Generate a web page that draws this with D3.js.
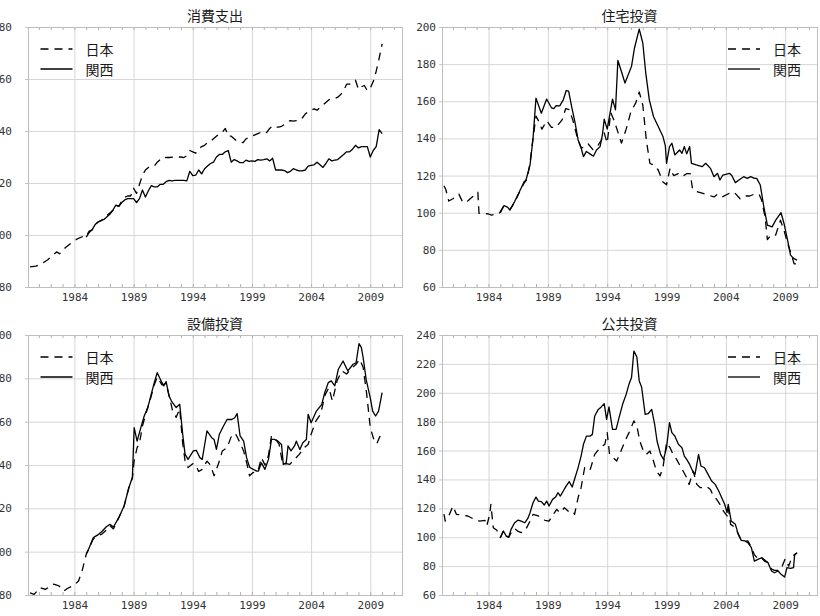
<!DOCTYPE html>
<html>
<head>
<meta charset="utf-8">
<script src="https://cdn.jsdelivr.net/npm/d3@7/dist/d3.min.js"></script>
<style>
  body { margin: 0; background: #fff; }
  svg { display: block; }
  .axis text { font-family: "DejaVu Sans Mono", monospace; font-size: 11px; fill: #333; }
  .axis .domain { display: none; }
  .axis line { stroke: #c4c4c4; }
  .grid line { stroke: #d6d6d6; }
  .grid .domain, .minor .domain { display: none; }
  .minor line { stroke: #b0b0b0; }
  .panel-title, .legend-label { font-family: "Noto Sans CJK JP", sans-serif; font-size: 14px; fill: #1a1a1a; }
  .series { fill: none; stroke: #000; stroke-width: 1.3; stroke-linejoin: round; }
  .series.japan { stroke-dasharray: 8,6; }
</style>
</head>
<body>
<div id="chart"></div>
<script>

// ---- data: [year, index] ----

let years = [1984, 1989, 1994, 1999, 2004, 2009];

// 消費支出
let consumJapan = [[1980.25,87.7],[1980.75,88],[1981.25,89],[1981.75,90.5],[1982.25,92.5],[1982.5,93.5],[1982.75,92.8],[1983.25,95.2],[1983.75,97],[1984.25,98.5],[1984.75,99.5],[1985,99.5],[1985.25,101.5],[1985.5,102],[1985.75,104],[1986,105],[1986.25,105.5],[1986.5,106.5],[1986.75,107.5],[1987,108.5],[1987.25,109.5],[1987.5,111.5],[1987.75,111],[1988,113],[1988.25,114.5],[1988.5,115],[1988.75,115],[1989,118],[1989.25,116],[1989.5,119.5],[1989.75,123],[1990,125],[1990.25,126],[1990.5,126],[1990.75,126.5],[1991,128],[1991.25,129],[1991.5,130],[1991.75,129.8],[1992,129.8],[1992.5,130],[1993,130],[1993.25,129.8],[1993.5,130.5],[1993.75,132.5],[1994,132],[1994.25,131.5],[1994.5,133],[1994.75,134],[1995,134.5],[1995.25,135.5],[1995.5,136],[1995.75,137],[1996,138],[1996.25,139],[1996.5,139.5],[1996.75,141],[1997,138],[1997.25,138],[1997.5,137],[1997.75,136],[1998,135.8],[1998.25,135.5],[1998.5,137],[1998.75,137.5],[1999,138],[1999.25,138.5],[1999.5,139],[1999.75,139.5],[2000,139],[2000.25,139.5],[2000.5,141],[2000.75,142],[2001,141.5],[2001.25,141.5],[2001.5,141.8],[2001.75,142.5],[2002,143.5],[2002.25,144],[2002.5,143.8],[2002.75,144],[2003,144],[2003.25,145],[2003.5,146.5],[2003.75,147.5],[2004,148],[2004.25,148.5],[2004.5,148],[2004.75,149],[2005,150],[2005.25,151],[2005.5,152],[2005.75,152.5],[2006,152.5],[2006.25,153],[2006.5,154],[2006.75,155.5],[2007,158],[2007.25,158],[2007.5,158.5],[2007.75,159.5],[2008,156],[2008.25,157],[2008.5,157.5],[2008.75,155.5],[2009,156.5],[2009.25,159],[2009.5,163],[2009.75,168],[2010,173.5]];
let consumKansai = [[1985,99.2],[1985.25,101],[1985.5,102],[1985.75,104],[1986,105],[1986.25,105.5],[1986.5,106],[1986.75,107],[1987,108],[1987.25,109.5],[1987.5,111.5],[1987.75,111],[1988,112.5],[1988.25,113.5],[1988.5,114],[1988.75,114],[1989,114],[1989.25,112.5],[1989.5,114],[1989.75,117.3],[1990,114.6],[1990.25,117],[1990.5,119],[1990.75,118.5],[1991,118.5],[1991.25,119.5],[1991.5,119.5],[1991.75,120.5],[1992,121],[1992.25,120.8],[1992.5,121],[1992.75,121],[1993,121],[1993.25,121],[1993.5,120.8],[1993.75,124.5],[1994,122.8],[1994.25,123],[1994.5,125],[1994.75,123.5],[1995,125.5],[1995.25,126.5],[1995.5,127.5],[1995.75,128],[1996,130],[1996.25,131],[1996.5,131],[1996.75,132],[1997,132.5],[1997.25,128],[1997.5,129],[1997.75,128.5],[1998,127.8],[1998.25,127.8],[1998.5,128.8],[1998.75,128.3],[1999,128.5],[1999.25,128.3],[1999.5,129],[1999.75,128.8],[2000,129],[2000.25,129.3],[2000.5,128.5],[2000.75,129.5],[2001,125],[2001.25,125],[2001.5,125],[2001.75,124.8],[2002,124],[2002.25,124.5],[2002.5,125.5],[2002.75,125],[2003,124.7],[2003.25,124.7],[2003.5,125],[2003.75,126.5],[2004,126.8],[2004.25,127],[2004.5,128],[2004.75,127],[2005,126],[2005.25,127.5],[2005.5,129.3],[2005.75,128.5],[2006,128.8],[2006.25,129],[2006.5,130],[2006.75,131],[2007,132],[2007.25,132],[2007.5,133],[2007.75,134.5],[2008,133.5],[2008.25,134],[2008.5,134],[2008.75,134],[2009,130],[2009.25,132.5],[2009.5,134],[2009.75,140.5],[2010,139]];

// 住宅投資
let housingJapan = [[1980.25,114.5],[1980.4,112.5],[1980.65,106.3],[1981,107.5],[1981.5,110],[1981.8,106],[1982.1,105.4],[1982.5,107.8],[1983,110.4],[1983.1,111],[1983.2,99.6],[1983.6,99.6],[1984,99.3],[1984.25,98.7],[1984.9,99.6],[1985.25,103.3],[1985.6,102.5],[1985.8,101.5],[1986.2,105.5],[1986.6,111],[1987,116],[1987.25,118],[1987.5,127],[1987.75,140],[1988,152],[1988.25,149],[1988.5,145],[1988.9,149.5],[1989.3,146],[1989.7,146],[1990.2,150],[1990.5,156],[1990.8,155.5],[1991.1,150],[1991.5,140],[1991.8,135],[1992,135],[1992.4,137],[1992.8,134],[1993.2,136],[1993.5,139],[1993.75,143],[1994,137.5],[1994.3,154],[1994.55,150],[1994.8,145.5],[1995.2,137.5],[1995.6,145],[1996,154.5],[1996.4,159],[1996.7,165],[1997,158],[1997.3,139],[1997.6,126.5],[1998,125.5],[1998.3,123],[1998.7,116.5],[1999,115],[1999.3,124],[1999.6,120],[2000,121],[2000.3,119.5],[2000.7,121],[2001,121],[2001.2,112.5],[2001.5,111.5],[2002,110.5],[2002.5,109.5],[2003,108.5],[2003.3,110],[2003.7,108.5],[2004.3,110.5],[2004.7,111],[2005.2,107.5],[2005.6,109],[2006,109],[2006.4,110],[2006.8,110],[2007,107],[2007.3,98],[2007.5,85.5],[2007.8,88],[2008.2,88],[2008.6,96],[2008.9,90.5],[2009.2,83.5],[2009.5,78],[2009.75,72.5],[2010,72.5]];
let housingKansai = [[1985,100],[1985.3,103.8],[1985.6,103],[1985.8,101.5],[1986.2,106],[1986.6,111.3],[1987,116.7],[1987.15,117.5],[1987.5,125.7],[1987.75,140],[1988,161.7],[1988.45,153.6],[1988.9,161.2],[1989.3,156.5],[1989.5,156],[1989.7,157.6],[1990,157.5],[1990.3,160.8],[1990.55,165.8],[1990.75,165.5],[1991,157.2],[1991.3,148.2],[1991.55,139.2],[1991.8,135],[1992,130.2],[1992.25,133],[1992.7,131],[1992.85,130.5],[1993.1,133.8],[1993.4,135.6],[1993.6,142],[1993.75,150.4],[1994,145],[1994.45,161.2],[1994.7,155.4],[1994.9,182],[1995.2,176],[1995.5,169.8],[1996.05,178.8],[1996.3,188.7],[1996.7,198.9],[1997,191.4],[1997.25,175.2],[1997.55,160.8],[1997.9,151.8],[1998.3,146.4],[1998.7,141],[1998.9,136],[1999,126.6],[1999.25,135.6],[1999.45,137.4],[1999.7,131.1],[2000.1,133.8],[2000.3,132],[2000.5,135.6],[2000.7,131.7],[2000.95,135.6],[2001.1,126.6],[2001.5,125.7],[2002,124.8],[2002.3,126.6],[2002.7,123.9],[2003,119.4],[2003.3,121.2],[2003.5,117.6],[2003.75,120.3],[2004.3,121.2],[2004.5,120],[2004.8,116.2],[2005.1,117.6],[2005.5,119.4],[2005.8,118.5],[2006.1,119.4],[2006.4,118.5],[2006.6,118.5],[2006.9,114.9],[2007.2,103.2],[2007.5,93.3],[2007.9,92.4],[2008.2,96],[2008.65,100],[2008.9,94.2],[2009.2,85.3],[2009.45,77.2],[2009.7,75.4],[2010,74.5]];

// 設備投資
let equipJapan = [[1980.25,81],[1980.6,80.3],[1981.1,83.4],[1981.55,82.6],[1982.25,85],[1982.7,84.2],[1983.1,81.8],[1983.4,83],[1984,84.6],[1984.35,86.5],[1984.65,91.1],[1985,98.8],[1985.2,101],[1985.6,106],[1986.05,107.5],[1986.3,108],[1986.7,110],[1987,112],[1987.3,110.5],[1987.75,115.7],[1988.2,121],[1988.6,129.5],[1988.9,134],[1989.05,142],[1989.3,148],[1989.5,150],[1989.75,158],[1990,163],[1990.4,170],[1990.75,177],[1991,180.5],[1991.4,177],[1991.75,177.5],[1992,172],[1992.3,165],[1992.6,162],[1992.9,166],[1993.15,150],[1993.35,142],[1993.6,138.8],[1994,140.6],[1994.25,140],[1994.5,137],[1994.8,138],[1995.2,141.8],[1995.5,140],[1995.8,135],[1996.2,141],[1996.5,146.5],[1996.9,148],[1997.3,153.8],[1997.6,154.5],[1997.8,152.5],[1998.3,146.5],[1998.6,140],[1998.8,135],[1999.1,136.5],[1999.5,137],[1999.8,143.4],[2000.1,140],[2000.4,144.5],[2000.65,153.4],[2001,152],[2001.3,149.5],[2001.6,140.3],[2001.9,140.6],[2002.2,140.3],[2002.6,142.6],[2003,144.9],[2003.4,148],[2003.75,149.5],[2004,154.2],[2004.4,160.3],[2004.8,163.5],[2005.2,172.6],[2005.5,175.7],[2005.8,169.5],[2006.2,179],[2006.6,183.4],[2007,182],[2007.4,184.5],[2007.8,186.5],[2008.1,188.8],[2008.4,185],[2008.7,172.6],[2009,157.2],[2009.3,151.8],[2009.55,149.8],[2009.8,153],[2010,154.9]];
let equipKansai = [[1985,99],[1985.2,101.1],[1985.6,106.5],[1986.05,108],[1986.3,109.2],[1986.7,111.5],[1987,112.6],[1987.3,111.4],[1987.75,115.7],[1988.2,121.1],[1988.6,129.5],[1988.9,134.2],[1989.05,157.2],[1989.3,151],[1989.6,157],[1989.9,162.6],[1990.2,166.5],[1990.45,171.8],[1990.75,178],[1991,182.6],[1991.4,178],[1991.55,176.5],[1991.75,178.5],[1992,171.8],[1992.2,169.5],[1992.6,166.5],[1992.9,168],[1993.15,154.2],[1993.35,145],[1993.6,142.6],[1994.05,146.5],[1994.3,146.8],[1994.6,143.4],[1994.8,142.6],[1995.2,155.7],[1995.6,152.6],[1995.8,151.8],[1996,147.2],[1996.25,154.2],[1996.6,158],[1996.9,161],[1997.3,161],[1997.55,161.8],[1997.75,163.7],[1998,153.4],[1998.3,151],[1998.55,143.4],[1998.8,139],[1999,138.3],[1999.4,137.2],[1999.55,137.2],[1999.8,141],[2000.1,138],[2000.4,142.6],[2000.65,151.8],[2000.9,151.8],[2001.2,151],[2001.5,149.5],[2001.65,140.3],[2001.9,141],[2002.05,148.8],[2002.3,146.5],[2002.6,148.8],[2002.75,151],[2003.05,147.2],[2003.3,150.3],[2003.6,151.8],[2003.75,163.4],[2004,159.5],[2004.45,164.9],[2004.9,168],[2005.15,173.4],[2005.45,178],[2005.7,178.8],[2006,176.5],[2006.3,184.2],[2006.7,188],[2007.1,183.4],[2007.55,186.5],[2007.8,187.2],[2008.05,196],[2008.25,194.2],[2008.4,189.5],[2008.65,179.5],[2009,171],[2009.2,164.9],[2009.45,162.6],[2009.7,164.9],[2010,173.4]];

// 公共投資
let publicJapan = [[1980.25,116],[1980.35,111.2],[1980.65,114.7],[1981,121.6],[1981.3,115.8],[1981.8,115.4],[1982.25,114.7],[1982.8,112.4],[1983.25,111.2],[1983.7,111.7],[1983.85,107.8],[1984.1,115.8],[1984.2,122.8],[1984.4,106.6],[1984.7,104.8],[1985,99.7],[1985.25,104.3],[1985.5,100.8],[1985.7,100],[1985.9,103],[1986.2,106],[1986.5,104],[1986.75,103.2],[1987.1,104.8],[1987.5,111.2],[1987.75,115.8],[1988.2,114.7],[1988.75,111.7],[1989.1,111.2],[1989.45,115.8],[1989.75,119.3],[1990,117],[1990.4,120.4],[1990.7,118.1],[1991.1,118.1],[1991.25,115.8],[1991.55,127.4],[1991.8,134.3],[1992.1,148.1],[1992.55,146.3],[1992.95,157.4],[1993.4,162],[1993.8,164.3],[1994,172.4],[1994.2,157.4],[1994.5,155.1],[1994.8,152.8],[1995.05,157.4],[1995.5,166.6],[1995.9,173.5],[1996.25,180.5],[1996.5,177],[1996.75,166.6],[1997.05,159.7],[1997.3,157.4],[1997.6,159.7],[1997.9,152.8],[1998.15,145.8],[1998.45,142.4],[1998.7,148.1],[1999,165.5],[1999.3,162],[1999.55,157.4],[1999.85,153.9],[2000.15,149.3],[2000.4,145.8],[2000.7,141.2],[2000.9,136.5],[2001.25,145.8],[2001.55,136.6],[2001.85,134.3],[2002.1,134.3],[2002.4,135],[2002.7,133.1],[2002.95,128.5],[2003.2,126.5],[2003.5,122.8],[2003.8,118.1],[2004.1,114.7],[2004.2,120.4],[2004.4,108.9],[2004.8,106.6],[2005.05,102],[2005.3,98],[2005.6,97],[2005.85,97.5],[2006.15,93],[2006.4,88],[2006.7,85],[2007,86],[2007.3,84],[2007.6,82],[2007.85,78],[2008.1,77],[2008.5,77],[2008.75,80],[2009,85],[2009.3,80],[2009.6,87],[2010,89]];
let publicKansai = [[1985,100],[1985.25,104.3],[1985.5,100.8],[1985.7,100],[1985.9,105.4],[1986.2,110],[1986.5,111.9],[1986.75,111.2],[1987.05,110],[1987.3,112.8],[1987.5,117],[1987.75,123.9],[1988,127.8],[1988.2,125],[1988.45,124.6],[1988.7,122.3],[1988.9,125],[1989.1,121.6],[1989.4,126.2],[1989.65,127.8],[1989.85,130.8],[1990.05,128.5],[1990.3,132],[1990.55,135.5],[1990.8,138.5],[1991.05,134.8],[1991.25,140.1],[1991.55,148.2],[1991.8,156.2],[1992,164.3],[1992.25,170],[1992.55,170],[1992.75,171.2],[1992.95,183.9],[1993.25,188.5],[1993.5,190.2],[1993.75,192.5],[1993.95,181.6],[1994.15,190.2],[1994.45,174.7],[1994.75,174.7],[1995,182.8],[1995.3,192],[1995.6,198.9],[1995.85,206.3],[1996.05,210.5],[1996.25,228.9],[1996.5,224.8],[1996.7,208.2],[1996.9,204],[1997.2,185.1],[1997.45,185.5],[1997.75,188.5],[1998,178.2],[1998.2,166.6],[1998.5,157.4],[1998.75,153.9],[1999,162],[1999.25,179.3],[1999.45,172.4],[1999.7,170.1],[2000,164.3],[2000.3,162],[2000.5,156.2],[2000.7,153.9],[2000.95,150.4],[2001.2,145.8],[2001.4,143.5],[2001.7,157.4],[2001.9,149.3],[2002.2,148.1],[2002.5,143.5],[2002.8,138.9],[2003.1,136.6],[2003.4,132],[2003.65,127.4],[2003.9,122.8],[2004.1,117],[2004.2,122.8],[2004.45,111.2],[2004.8,108.9],[2005.05,102],[2005.3,97.8],[2005.6,97.4],[2005.85,96.2],[2006.15,92.8],[2006.4,83.5],[2006.7,84.7],[2007,85.8],[2007.25,83.5],[2007.55,82.4],[2007.85,76.6],[2008.1,75.4],[2008.4,76.6],[2008.65,74.3],[2008.95,72.4],[2009.15,78.9],[2009.45,78.5],[2009.7,78.9],[2009.8,88.1],[2010,89.3]];

let seriesNames = ["日本", "関西"];


/*
 * LinePanel - one of the four small time series plots
 */
class LinePanel {

    constructor(svg, config) {
        this.svg = svg;
        this.config = config;
        this.initVis();
    }

    initVis() {
        let vis = this;
        let c = vis.config;

        vis.width = c.w;
        vis.height = c.h;

        vis.g = vis.svg.append("g")
            .attr("transform", "translate(" + c.left + "," + c.top + ")");

        vis.x = d3.scaleLinear()
            .domain([1980.08, 2011.68])
            .range([0, vis.width]);

        vis.y = d3.scaleLinear()
            .domain(c.yDomain)
            .range([vis.height, 0]);

        let yTicks = d3.range(c.yDomain[0], c.yDomain[1] + 1, 20);

        // grid
        vis.g.append("g")
            .attr("class", "grid")
            .attr("transform", "translate(0," + vis.height + ")")
            .call(d3.axisBottom(vis.x).tickValues(years).tickSize(-vis.height).tickFormat(""));

        vis.g.append("g")
            .attr("class", "grid")
            .call(d3.axisLeft(vis.y).tickValues(yTicks).tickSize(-vis.width).tickFormat(""));

        // yearly minor ticks along top and bottom
        let allYears = d3.range(1981, 2012);
        vis.g.append("g")
            .attr("class", "minor")
            .call(d3.axisTop(vis.x).tickValues(allYears).tickSize(-3).tickFormat(""));
        vis.g.append("g")
            .attr("class", "minor")
            .attr("transform", "translate(0," + vis.height + ")")
            .call(d3.axisBottom(vis.x).tickValues(allYears).tickSize(-3).tickFormat(""));

        // frame
        vis.g.append("rect")
            .attr("x", 0.5)
            .attr("y", 0.5)
            .attr("width", vis.width)
            .attr("height", vis.height)
            .attr("fill", "none")
            .attr("stroke", "#bdbdbd");

        // axes
        vis.g.append("g")
            .attr("class", "axis")
            .attr("transform", "translate(0," + vis.height + ")")
            .call(d3.axisBottom(vis.x).tickValues(years).tickFormat(d3.format("d")).tickSize(0).tickPadding(6));

        vis.g.append("g")
            .attr("class", "axis")
            .call(d3.axisLeft(vis.y).tickValues(yTicks).tickSize(3).tickPadding(c.yPad));

        // title
        vis.g.append("text")
            .attr("class", "panel-title")
            .attr("x", vis.width / 2)
            .attr("y", -12)
            .attr("text-anchor", "middle")
            .attr("dominant-baseline", "central")
            .text(c.title);

        // lines
        let line = d3.line()
            .x(d => vis.x(d[0]))
            .y(d => vis.y(d[1]));

        vis.g.append("path")
            .datum(c.japan)
            .attr("class", "series japan")
            .attr("d", line);

        vis.g.append("path")
            .datum(c.kansai)
            .attr("class", "series kansai")
            .attr("d", line);

        // legend
        let lx = c.legendRight ? vis.width - 89 : 12.5;
        let legend = vis.g.append("g")
            .attr("transform", "translate(" + lx + ",22)");

        seriesNames.forEach(function (name, i) {
            legend.append("line")
                .attr("class", "series " + (i === 0 ? "japan" : "kansai"))
                .attr("x1", 0)
                .attr("x2", 32)
                .attr("y1", i * 20)
                .attr("y2", i * 20);
            legend.append("text")
                .attr("class", "legend-label")
                .attr("x", 45)
                .attr("y", i * 20)
                .attr("dominant-baseline", "central")
                .text(name);
        });
    }
}

let svg = d3.select("#chart").append("svg")
    .attr("width", 820)
    .attr("height", 616);

let panels = [
    {title: "消費支出", japan: consumJapan, kansai: consumKansai, yDomain: [80, 180], left: 28, top: 27, w: 374, h: 260, yPad: 13, legendRight: false},
    {title: "住宅投資", japan: housingJapan, kansai: housingKansai, yDomain: [60, 200], left: 442, top: 27, w: 375, h: 260, yPad: 3, legendRight: true},
    {title: "設備投資", japan: equipJapan, kansai: equipKansai, yDomain: [80, 200], left: 28, top: 335, w: 374, h: 260, yPad: 13, legendRight: false},
    {title: "公共投資", japan: publicJapan, kansai: publicKansai, yDomain: [60, 240], left: 442, top: 335, w: 375, h: 260, yPad: 3, legendRight: true}
];

panels.forEach(p => new LinePanel(svg, p));

</script>
</body>
</html>
